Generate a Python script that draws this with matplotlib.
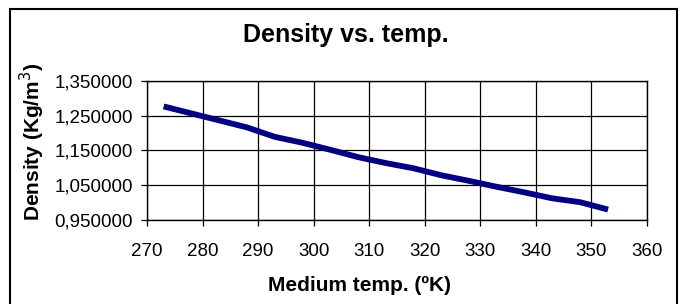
import matplotlib.pyplot as plt
from matplotlib.ticker import FuncFormatter
from matplotlib.patches import Rectangle

plt.rcParams['font.family'] = ['Liberation Sans', 'DejaVu Sans']

# temperatura media (K) e densidade
temperatura = [273, 278, 283, 288, 293, 298, 303, 308, 313, 318, 323, 328, 333, 338, 343, 348, 353]
densidade = [1.276, 1.256, 1.236, 1.216, 1.189, 1.172, 1.152, 1.131, 1.114, 1.099,
             1.079, 1.063, 1.046, 1.030, 1.013, 1.002, 0.981]
x_ticks = [270, 280, 290, 300, 310, 320, 330, 340, 350, 360]
y_ticks = [0.95, 1.05, 1.15, 1.25, 1.35]

fig = plt.figure(figsize=(6.83, 3.04), dpi=100)
ax = fig.add_axes([0.2152, 0.275, 0.732, 0.46])

ax.plot(temperatura, densidade, color='#000080', linewidth=4.2, solid_capstyle='butt')

ax.set_xlim(270, 360)
ax.set_ylim(0.95, 1.35)
ax.set_xticks(x_ticks)
ax.set_yticks(y_ticks)
ax.yaxis.set_major_formatter(FuncFormatter(lambda v, p: f'{v:.6f}'.replace('.', ',')))
ax.grid(True, color='black', linewidth=0.9)
ax.set_axisbelow(True)
for s in ax.spines.values():
    s.set_linewidth(1.0)
ax.tick_params(axis='both', labelsize=13.5, length=4, width=0.9)
ax.tick_params(axis='x', pad=12)
ax.tick_params(axis='y', pad=6)

# titulo e rotulos centrados na figura
fig.text(346 / 683, 1 - 35 / 304, 'Density vs. temp.', fontsize=18, fontweight='bold',
         ha='center', va='center')
fig.text(359 / 683, 1 - 285 / 304, 'Medium temp. (ºK)', fontsize=15, fontweight='bold',
         ha='center', va='center')
fig.text(32 / 683, 1 - 142 / 304, 'Density (Kg/m$^3$)', fontsize=15, fontweight='bold',
         ha='center', va='center', rotation=90)

# moldura externa
fig.patches.append(Rectangle((10 / 683, -0.05), 667 / 683, 1.02,
                             transform=fig.transFigure, fill=False, edgecolor='black', linewidth=1.5))

fig.savefig('out.png', dpi=100)
